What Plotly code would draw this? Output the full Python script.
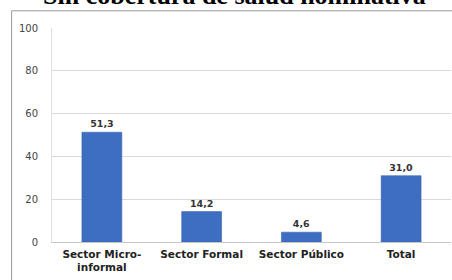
import plotly.graph_objects as go

categories = ["Sector Micro-<br>informal", "Sector Formal", "Sector Público", "Total"]
values = [51.3, 14.2, 4.6, 31.0]
labels = ["51,3", "14,2", "4,6", "31,0"]
title_text = "Sin cobertura de salud nominativa"

W, H = 452, 280
# desired plot area in page pixels
PL, PR, PT, PB = 51.5, 451.5, 27.7, 241.7
L = PL
T = PT
R = W - PR
B = H - PB
pw = PR - PL
ph = PB - PT

def px_x(x):
    return (x - PL) / pw

def px_y(y):
    return (PB - y) / ph

fig = go.Figure(go.Bar(
    x=categories, y=values, text=labels, textposition="outside",
    textfont=dict(family="DejaVu Sans", size=9.5, color="#333333", weight="bold"),
    marker=dict(color="#3E6EC2", line=dict(color="#2F5AA8", width=0.5)),
    cliponaxis=False,
))

fig.update_layout(
    width=W, height=H,
    margin=dict(l=L, r=R, t=T, b=B),
    paper_bgcolor="white", plot_bgcolor="white",
    bargap=0.6, showlegend=False,
    font=dict(family="DejaVu Sans"),
    xaxis=dict(showgrid=False, showline=True, linecolor="#c8c8c8", linewidth=1,
               tickfont=dict(size=10.5, color="#222222", weight="bold"),
               ticks="", ticklabelstandoff=2, automargin=False),
    yaxis=dict(range=[0, 100], tickvals=[0, 20, 40, 60, 80, 100],
               showgrid=True, gridcolor="#d9d9d9", gridwidth=1,
               showline=True, linecolor="#e0e0e0", zeroline=False,
               tickfont=dict(size=10, color="#444444"), ticks="",
               ticklabelstandoff=11, automargin=False),
    shapes=[dict(type="rect", xref="paper", yref="paper",
                 x0=px_x(11), x1=px_x(470), y0=px_y(300), y1=px_y(10.5),
                 line=dict(color="#999999", width=1), fillcolor="rgba(0,0,0,0)")],
    annotations=[dict(text=title_text, xref="paper", yref="paper",
                      x=px_x(234.5), y=px_y(-5), xanchor="center", yanchor="middle",
                      showarrow=False,
                      font=dict(family="Liberation Serif", size=26, color="#000000", weight="bold"))],
)

fig.write_html("out.html", config={"displayModeBar": False, "staticPlot": True},
               post_script="document.body.style.margin='0';")
